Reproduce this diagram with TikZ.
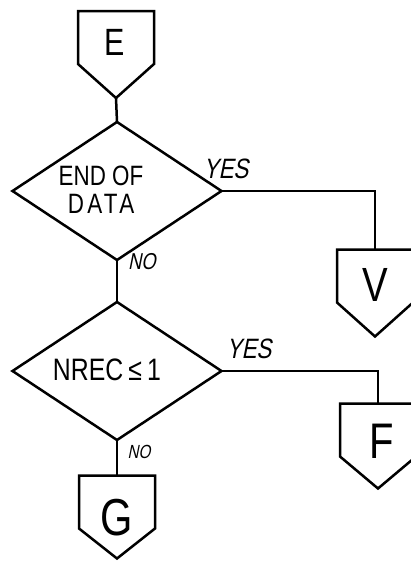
\documentclass[tikz,border=0pt]{standalone}
\usepackage{fontspec}
\newfontfamily\hand[FakeStretch=0.8]{Liberation Sans}
\newfontfamily\handit[FakeStretch=0.8,FakeSlant=0.2]{Liberation Sans}
\usetikzlibrary{shapes.geometric,calc}
\tikzset{
  ln/.style={line width=2.5pt, line join=miter},
  pbox/.style={minimum width=76pt, minimum height=53pt, inner sep=0pt, outer sep=0pt},
  dia/.style={diamond, draw, ln, inner sep=0pt, outer sep=0pt, minimum width=209pt, minimum height=138pt},
  lbl/.style={inner sep=0pt, font=\hand\fontsize{#1}{#1}\selectfont},
  lblit/.style={inner sep=0pt, font=\handit\fontsize{#1}{#1}\selectfont},
}
\newcommand\pent[2]{%
  \draw[ln] (#1.north west) -- (#1.north east) -- (#1.south east) --
    ([yshift=-#2]#1.south) coordinate (#1tip) -- (#1.south west) -- cycle;}
\begin{document}
\begin{tikzpicture}[x=1pt,y=-1pt]
\useasboundingbox (0,0) rectangle (411,562);
\fill[white] (0,0) rectangle (411,562);
% off-page connectors
\node[pbox] (E) at (116,37.5) {}; \pent{E}{34pt}
\node[pbox] (V) at (375,276) {}; \pent{V}{34pt}
\node[pbox] (F) at (378,430) {}; \pent{F}{32pt}
\node[pbox] (G) at (117,502) {}; \pent{G}{30pt}
\node[lbl=38] (Et) at (115,42) {E};
\node[lbl=48] (Vt) at (375,285) {V};
\node[lbl=50] (Ft) at (382,441) {F};
\node[lbl=52] (Gt) at (117,518) {G};
% decisions
\node[dia] (D1) at (117,191) {};
\node[dia] (D2) at (117,371) {};
\node[lbl=28, align=center] (D1t) at (101,190) {END OF\\{\addfontfeature{LetterSpace=12}DATA}};
\node[lbl=31] (D2t) at (107,370) {NREC\,≤\,1};
% connectors
\draw[ln] (Etip) -- (D1.north);
\draw[ln] (D1.east) -| (V.north);
\draw[ln] (D1.south) -- (D2.north);
\draw[ln] (D2.east) -| (F.north);
\draw[ln] (D2.south) -- (G.north);
% branch labels
\node[lblit=28] (y1) at (226,169) {YES};
\node[lblit=28] (y2) at (249,349) {YES};
\node[lblit=23] (n1) at (142,262) {NO};
\node[lblit=19] (n2) at (139,452) {NO};
\end{tikzpicture}
\end{document}
